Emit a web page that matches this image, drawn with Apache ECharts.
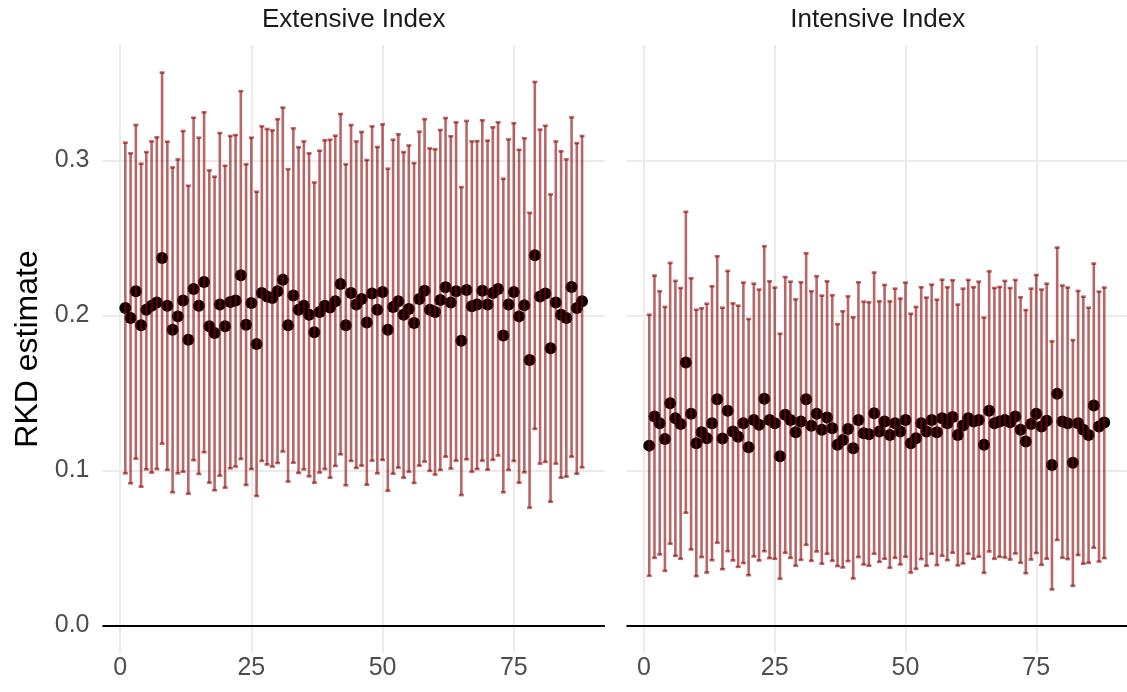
<!DOCTYPE html>
<html>
<head>
<meta charset="utf-8">
<title>RKD estimates</title>
<script src="https://cdn.jsdelivr.net/npm/echarts@6/dist/echarts.min.js"></script>
<style>
  html, body { margin: 0; padding: 0; background: #ffffff; }
  #chart { width: 1127px; height: 692px; }
</style>
</head>
<body>
<div id="chart"></div>
<script>
// Panel titles and axis ticks
const panelTitles = ['Extensive Index', 'Intensive Index'];
const xTicks = [0, 25, 50, 75];
const yTicks = [0, 0.1, 0.2, 0.3];

// Extensive index: point estimate, lower and upper bound per run
const extEst = [
  0.2048, 0.1983, 0.2156, 0.1936, 0.2037, 0.2063, 0.2083, 0.2371, 0.2063, 0.1908,
  0.1994, 0.2096, 0.1843, 0.2171, 0.2063, 0.2216, 0.1930, 0.1886, 0.2070, 0.1930,
  0.2087, 0.2096, 0.2259, 0.1940, 0.2080, 0.1815, 0.2145, 0.2123, 0.2113, 0.2156,
  0.2231, 0.1936, 0.2128, 0.2037, 0.2063, 0.2005, 0.1891, 0.2022, 0.2063, 0.2052,
  0.2091, 0.2203, 0.1936, 0.2145, 0.2070, 0.2106, 0.1955, 0.2141, 0.2037, 0.2151,
  0.1908, 0.2054, 0.2091, 0.2005, 0.2041, 0.1951, 0.2106, 0.2160, 0.2037, 0.2022,
  0.2100, 0.2182, 0.2083, 0.2156, 0.1837, 0.2164, 0.2059, 0.2070, 0.2160, 0.2070,
  0.2145, 0.2171, 0.1871, 0.2070, 0.2151, 0.1994, 0.2065, 0.1712, 0.2389, 0.2123,
  0.2141, 0.1789, 0.2083, 0.2005, 0.1983, 0.2184, 0.2048, 0.2091
];
const extLow = [
  0.0981, 0.0917, 0.1076, 0.0895, 0.1007, 0.0986, 0.1009, 0.1173, 0.1003, 0.0859,
  0.0981, 0.0992, 0.0850, 0.1066, 0.0977, 0.1117, 0.0921, 0.0872, 0.0966, 0.0889,
  0.1014, 0.1025, 0.1074, 0.0906, 0.1009, 0.0835, 0.1061, 0.1038, 0.1025, 0.1048,
  0.1122, 0.0928, 0.1050, 0.0984, 0.1007, 0.0962, 0.0921, 0.0986, 0.1009, 0.0953,
  0.1029, 0.1104, 0.0904, 0.1061, 0.1016, 0.1031, 0.0908, 0.1063, 0.0981, 0.1068,
  0.0869, 0.0979, 0.1018, 0.0953, 0.0992, 0.0919, 0.1031, 0.1057, 0.0997, 0.0973,
  0.1003, 0.1089, 0.1012, 0.1063, 0.0841, 0.1072, 0.0992, 0.1009, 0.1063, 0.1005,
  0.1068, 0.1096, 0.0859, 0.1003, 0.1061, 0.0921, 0.0988, 0.0760, 0.1268, 0.1044,
  0.1055, 0.0798, 0.1044, 0.0953, 0.0960, 0.1089, 0.0979, 0.1020
];
const extHigh = [
  0.3115, 0.3046, 0.3229, 0.2979, 0.3054, 0.3123, 0.3149, 0.3567, 0.3121, 0.2955,
  0.3007, 0.3190, 0.2837, 0.3276, 0.3147, 0.3311, 0.2936, 0.2895, 0.3177, 0.2966,
  0.3158, 0.3164, 0.3447, 0.2975, 0.3147, 0.2798, 0.3220, 0.3203, 0.3194, 0.3266,
  0.3341, 0.2944, 0.3207, 0.3085, 0.3123, 0.3046, 0.2858, 0.3063, 0.3130, 0.3134,
  0.3160, 0.3300, 0.2975, 0.3229, 0.3123, 0.3184, 0.3003, 0.3220, 0.3087, 0.3233,
  0.2947, 0.3134, 0.3169, 0.3054, 0.3097, 0.2983, 0.3186, 0.3266, 0.3078, 0.3072,
  0.3197, 0.3274, 0.3156, 0.3246, 0.2828, 0.3255, 0.3123, 0.3125, 0.3259, 0.3128,
  0.3214, 0.3246, 0.2882, 0.3136, 0.3240, 0.3069, 0.3143, 0.2662, 0.3507, 0.3199,
  0.3224, 0.2781, 0.3123, 0.3059, 0.3007, 0.3278, 0.3112, 0.3158
];

// Intensive index: point estimate, lower and upper bound per run
const intEst = [
  0.1160, 0.1348, 0.1305, 0.1203, 0.1434, 0.1337, 0.1300, 0.1697, 0.1365, 0.1175,
  0.1246, 0.1208, 0.1305, 0.1460, 0.1206, 0.1385, 0.1251, 0.1218, 0.1305, 0.1150,
  0.1326, 0.1294, 0.1462, 0.1326, 0.1305, 0.1091, 0.1359, 0.1326, 0.1246, 0.1315,
  0.1460, 0.1288, 0.1365, 0.1262, 0.1341, 0.1272, 0.1165, 0.1197, 0.1268, 0.1143,
  0.1326, 0.1240, 0.1234, 0.1369, 0.1251, 0.1315, 0.1229, 0.1305, 0.1251, 0.1326,
  0.1175, 0.1208, 0.1305, 0.1251, 0.1326, 0.1246, 0.1337, 0.1305, 0.1345, 0.1229,
  0.1290, 0.1337, 0.1315, 0.1326, 0.1165, 0.1385, 0.1305, 0.1315, 0.1326, 0.1311,
  0.1348, 0.1262, 0.1186, 0.1300, 0.1365, 0.1283, 0.1320, 0.1035, 0.1494, 0.1315,
  0.1305, 0.1050, 0.1305, 0.1262, 0.1229, 0.1419, 0.1283, 0.1309
];
const intLow = [
  0.0320, 0.0436, 0.0458, 0.0352, 0.0527, 0.0449, 0.0430, 0.0727, 0.0490, 0.0318,
  0.0441, 0.0341, 0.0421, 0.0533, 0.0363, 0.0479, 0.0419, 0.0378, 0.0402, 0.0324,
  0.0445, 0.0419, 0.0479, 0.0434, 0.0430, 0.0301, 0.0469, 0.0436, 0.0385, 0.0423,
  0.0520, 0.0417, 0.0477, 0.0398, 0.0462, 0.0417, 0.0383, 0.0374, 0.0415, 0.0303,
  0.0441, 0.0393, 0.0385, 0.0462, 0.0410, 0.0430, 0.0372, 0.0436, 0.0393, 0.0443,
  0.0341, 0.0365, 0.0428, 0.0385, 0.0462, 0.0389, 0.0449, 0.0421, 0.0469, 0.0387,
  0.0400, 0.0462, 0.0430, 0.0443, 0.0339, 0.0477, 0.0430, 0.0443, 0.0438, 0.0425,
  0.0464, 0.0404, 0.0337, 0.0425, 0.0467, 0.0391, 0.0430, 0.0232, 0.0551, 0.0436,
  0.0428, 0.0255, 0.0454, 0.0398, 0.0404, 0.0501, 0.0412, 0.0434
];
const intHigh = [
  0.2005, 0.2257, 0.2156, 0.2055, 0.2339, 0.2223, 0.2177, 0.2669, 0.2240, 0.2037,
  0.2046, 0.2076, 0.2188, 0.2382, 0.2050, 0.2287, 0.2078, 0.2063, 0.2212, 0.1977,
  0.2205, 0.2167, 0.2447, 0.2220, 0.2180, 0.1882, 0.2248, 0.2218, 0.2104, 0.2214,
  0.2401, 0.2156, 0.2253, 0.2128, 0.2220, 0.2130, 0.1944, 0.2027, 0.2123, 0.1988,
  0.2214, 0.2089, 0.2085, 0.2277, 0.2091, 0.2197, 0.2091, 0.2173, 0.2109, 0.2212,
  0.2011, 0.2055, 0.2182, 0.2115, 0.2199, 0.2102, 0.2231, 0.2182, 0.2227, 0.2070,
  0.2173, 0.2229, 0.2182, 0.2218, 0.1986, 0.2285, 0.2177, 0.2184, 0.2223, 0.2177,
  0.2229, 0.2117, 0.2035, 0.2173, 0.2261, 0.2167, 0.2205, 0.1833, 0.2438, 0.2193,
  0.2180, 0.1841, 0.2158, 0.2121, 0.2050, 0.2335, 0.2154, 0.2180
];

// Run index on the x axis (1..88)
const runs = extEst.map((_, i) => i + 1);

const FONT = "'Liberation Sans', Arial, Helvetica, sans-serif";
const BAR_COLOR = 'rgba(139, 0, 0, 0.6)';
const BAR_WIDTH = 2.6;
const CAP_WIDTH = 0.95;           // cap width in x-axis units
const GRID_COLOR = '#ebebeb';

// Panel geometry
const PANEL_TOP = 45;
const PANEL_HEIGHT = 608;
const PANEL_WIDTH = 502.4;
const PANEL_LEFTS = [102.5, 626.5];
const X_RANGE = [-3.35, 92.35];
const Y_RANGE = [-0.0178, 0.3745];

function pointData(est) {
  return runs.map((r, i) => [r, est[i]]);
}
function barData(low, high) {
  return runs.map((r, i) => [r, low[i], high[i]]);
}

// Vertical interval with a short cap at each end
function renderInterval(params, api) {
  const x = api.value(0);
  const pLo = api.coord([x, api.value(1)]);
  const pHi = api.coord([x, api.value(2)]);
  const half = api.size([CAP_WIDTH, 0])[0] / 2;
  const style = { stroke: BAR_COLOR, lineWidth: BAR_WIDTH, fill: null };
  return {
    type: 'group',
    children: [
      { type: 'line', shape: { x1: pHi[0], y1: pHi[1], x2: pLo[0], y2: pLo[1] }, style: style },
      { type: 'line', shape: { x1: pHi[0] - half, y1: pHi[1], x2: pHi[0] + half, y2: pHi[1] }, style: style },
      { type: 'line', shape: { x1: pLo[0] - half, y1: pLo[1], x2: pLo[0] + half, y2: pLo[1] }, style: style }
    ]
  };
}

function xAxisFor(gridIndex) {
  return {
    type: 'value',
    gridIndex: gridIndex,
    min: X_RANGE[0],
    max: X_RANGE[1],
    axisLine: { show: false },
    axisTick: { show: false, customValues: xTicks },
    axisLabel: {
      customValues: xTicks,
      color: '#4d4d4d',
      fontSize: 25,
      fontFamily: FONT,
      margin: 3
    },
    splitLine: { show: true, lineStyle: { color: GRID_COLOR, width: 2 } }
  };
}

function yAxisFor(gridIndex, showLabels) {
  return {
    type: 'value',
    gridIndex: gridIndex,
    min: Y_RANGE[0],
    max: Y_RANGE[1],
    axisLine: { show: false },
    axisTick: { show: false, customValues: yTicks },
    axisLabel: {
      show: showLabels,
      customValues: yTicks,
      formatter: function (v) { return v.toFixed(1); },
      color: '#4d4d4d',
      fontSize: 25,
      fontFamily: FONT,
      margin: 13
    },
    splitLine: { show: true, lineStyle: { color: GRID_COLOR, width: 2 } }
  };
}

function panelSeries(gridIndex, est, low, high) {
  return [
    {
      type: 'scatter',
      xAxisIndex: gridIndex,
      yAxisIndex: gridIndex,
      data: pointData(est),
      symbol: 'circle',
      symbolSize: 12,
      itemStyle: { color: '#000000', opacity: 1 },
      z: 2,
      silent: true,
      markLine: {
        silent: true,
        symbol: ['none', 'none'],
        label: { show: false },
        lineStyle: { color: '#000000', width: 2, type: 'solid' },
        data: [{ yAxis: 0 }]
      }
    },
    {
      type: 'custom',
      xAxisIndex: gridIndex,
      yAxisIndex: gridIndex,
      data: barData(low, high),
      encode: { x: 0, y: [1, 2] },
      renderItem: renderInterval,
      z: 3,
      silent: true
    }
  ];
}

const chart = echarts.init(document.getElementById('chart'), null, { renderer: 'canvas' });

chart.setOption({
  backgroundColor: '#ffffff',
  animation: false,
  textStyle: { fontFamily: FONT },
  grid: PANEL_LEFTS.map(function (left) {
    return { left: left, top: PANEL_TOP, width: PANEL_WIDTH, height: PANEL_HEIGHT, containLabel: false };
  }),
  xAxis: [xAxisFor(0), xAxisFor(1)],
  yAxis: [yAxisFor(0, true), yAxisFor(1, false)],
  series: panelSeries(0, extEst, extLow, extHigh).concat(panelSeries(1, intEst, intLow, intHigh)),
  graphic: [
    {
      type: 'text',
      x: PANEL_LEFTS[0] + PANEL_WIDTH / 2,
      y: 20,
      style: { text: panelTitles[0], fill: '#1a1a1a', fontSize: 26, fontFamily: FONT, align: 'center', verticalAlign: 'middle' }
    },
    {
      type: 'text',
      x: PANEL_LEFTS[1] + PANEL_WIDTH / 2,
      y: 20,
      style: { text: panelTitles[1], fill: '#1a1a1a', fontSize: 26, fontFamily: FONT, align: 'center', verticalAlign: 'middle' }
    },
    {
      type: 'text',
      x: 28,
      y: PANEL_TOP + PANEL_HEIGHT / 2,
      rotation: Math.PI / 2,
      style: { text: 'RKD estimate', fill: '#000000', fontSize: 32, fontFamily: FONT, align: 'center', verticalAlign: 'middle' }
    }
  ]
});
</script>
</body>
</html>
